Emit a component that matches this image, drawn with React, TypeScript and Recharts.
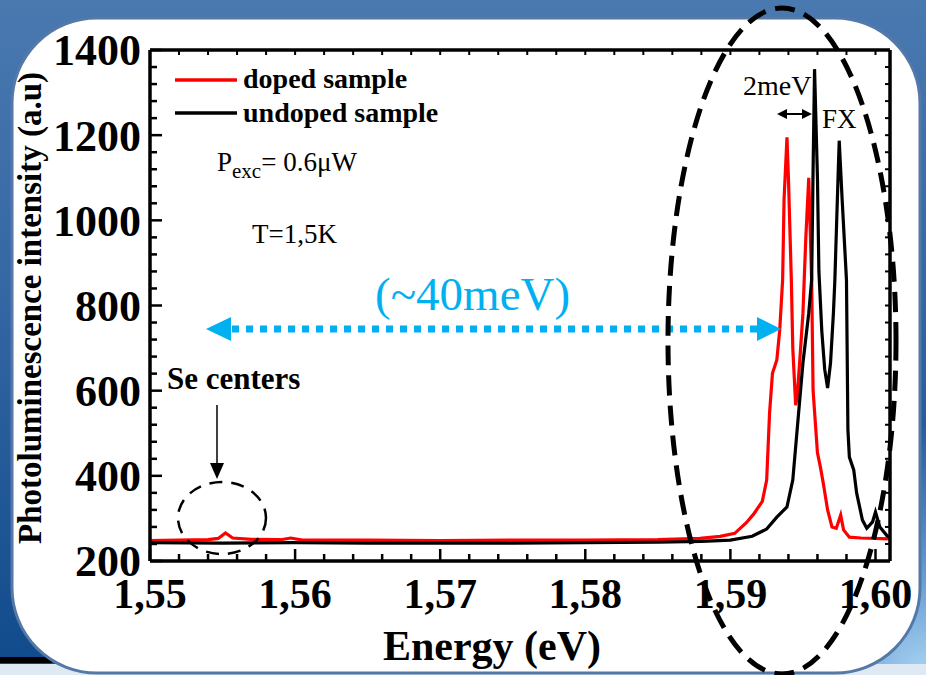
import { LineChart, Line, XAxis, YAxis } from "recharts";

const FONT = '"Liberation Serif", "Times New Roman", serif';

// energy (eV) and PL intensity (a.u)
const DOPED_E = [1.55, 1.552, 1.554, 1.5547, 1.5552, 1.5557, 1.557, 1.559, 1.5597, 1.5605, 1.565, 1.57, 1.575, 1.58, 1.585, 1.5879, 1.5893, 1.5903, 1.5911, 1.5916, 1.5922, 1.5925, 1.5927, 1.5929, 1.5932, 1.5934, 1.5936, 1.5937, 1.5939, 1.594, 1.5942, 1.5943, 1.5945, 1.5946, 1.5948, 1.595, 1.5952, 1.5954, 1.5955, 1.5956, 1.5957, 1.596, 1.5962, 1.5964, 1.5967, 1.597, 1.5973, 1.5976, 1.5978, 1.5982, 1.599, 1.601];
const DOPED_I = [248, 249, 250, 253, 266, 254, 251, 250, 254, 249, 249, 248, 249, 249, 250, 253, 258, 265, 290, 310, 340, 390, 548, 641, 672, 742, 860, 1050, 1195, 1100, 860, 700, 566, 585, 680, 782, 960, 1100, 980, 860, 600, 454, 421, 383, 320, 280, 277, 308, 273, 256, 254, 252];

const UNDOPED_E = [1.55, 1.555, 1.56, 1.565, 1.57, 1.575, 1.58, 1.585, 1.588, 1.59, 1.5915, 1.5925, 1.5932, 1.5939, 1.5943, 1.5946, 1.595, 1.5954, 1.5956, 1.5957, 1.5958, 1.596, 1.5961, 1.5963, 1.5965, 1.5967, 1.5969, 1.5971, 1.5972, 1.5974, 1.5975, 1.5977, 1.598, 1.5981, 1.5982, 1.5985, 1.5987, 1.5991, 1.5994, 1.5998, 1.6, 1.6003, 1.6008, 1.601];
const UNDOPED_I = [243, 242, 243, 242, 242, 242, 243, 244, 246, 249, 258, 275, 303, 327, 390, 508, 665, 782, 860, 1120, 1355, 1100, 880, 740, 650, 606, 665, 782, 860, 1080, 1187, 1050, 860, 508, 444, 414, 360, 296, 277, 292, 315, 280, 259, 256];

const X_MAJOR = [1.55, 1.56, 1.57, 1.58, 1.59, 1.6];
const X_LABELS = ["1,55", "1,56", "1,57", "1,58", "1,59", "1,60"];
const Y_MAJOR = [200, 400, 600, 800, 1000, 1200, 1400];

const doped = DOPED_E.map((e, i) => ({ e, v: DOPED_I[i] }));
const undoped = UNDOPED_E.map((e, i) => ({ e, v: UNDOPED_I[i] }));

const xTicks: number[] = [];
for (let i = 0; i <= 25; i++) xTicks.push(Number((1.55 + i * 0.002).toFixed(3)));
const yTicks: number[] = [];
for (let i = 0; i <= 30; i++) yTicks.push(200 + i * 40);

const isX = (v: number) => X_MAJOR.findIndex((m) => Math.abs(m - v) < 1e-6);
const isY = (v: number) => Y_MAJOR.indexOf(v);

function BottomTick(props: any) {
  const { x, y, payload } = props;
  const idx = isX(payload.value);
  return (
    <g>
      <line x1={x} y1={y} x2={x} y2={y - (idx >= 0 ? 12 : 7)} stroke="#000" strokeWidth={2.5} />
      {idx >= 0 && (
        <text x={x} y={y + 47} textAnchor="middle" fontFamily={FONT} fontWeight="bold" fontSize={42} fill="#000">
          {X_LABELS[idx]}
        </text>
      )}
    </g>
  );
}

function TopTick(props: any) {
  const { x, y } = props;
  return <line x1={x} y1={y} x2={x} y2={y + 5} stroke="#000" strokeWidth={2} />;
}

function LeftTick(props: any) {
  const { x, y, payload } = props;
  const idx = isY(payload.value);
  return (
    <g>
      <line x1={x} y1={y} x2={x + (idx >= 0 ? 12 : 7)} y2={y} stroke="#000" strokeWidth={2.5} />
      {idx >= 0 && (
        <text x={x - 9} y={y} dy="0.35em" textAnchor="end" fontFamily={FONT} fontWeight="bold" fontSize={44} fill="#000">
          {payload.value}
        </text>
      )}
    </g>
  );
}

function RightTick(props: any) {
  const { x, y } = props;
  return <line x1={x} y1={y} x2={x - 5} y2={y} stroke="#000" strokeWidth={2} />;
}

const axisLine = { stroke: "#000", strokeWidth: 3.5 };

export default function App() {
  return (
    <div
      style={{
        position: "absolute",
        left: 0,
        top: 0,
        width: 926,
        height: 675,
        overflow: "hidden",
        background:
          "radial-gradient(circle at 100% 100%, #a9d3f3 0%, rgba(130,185,235,0.7) 9%, rgba(60,110,170,0) 22%), linear-gradient(180deg, #4a79b0 0%, #3366a3 45%, #104a8b 100%)",
      }}
    >
      <svg width={926} height={675} style={{ position: "absolute", left: 0, top: 0 }}>
        <rect x={0} y={664} width={926} height={11} fill="#dfe9f3" />
        <rect x={0} y={657} width={52} height={6} fill="#000" />
        <rect x={12} y={18} width={908} height={655} rx={85} ry={85} fill="#fff" stroke="#5478a8" strokeWidth={3} />
      </svg>

      <div style={{ position: "absolute", left: 0, top: 0 }}>
        <LineChart width={926} height={675} margin={{ top: 49, right: 35, bottom: 0, left: 0 }}>
          <XAxis
            xAxisId="b"
            dataKey="e"
            type="number"
            domain={[1.55, 1.601]}
            allowDataOverflow
            ticks={xTicks}
            interval={0}
            height={114}
            tickSize={0}
            tickMargin={0}
            tickLine={false}
            axisLine={axisLine}
            tick={BottomTick}
          />
          <XAxis
            xAxisId="t"
            orientation="top"
            dataKey="e"
            type="number"
            domain={[1.55, 1.601]}
            allowDataOverflow
            ticks={xTicks}
            interval={0}
            height={1}
            tickSize={0}
            tickMargin={0}
            tickLine={false}
            axisLine={axisLine}
            tick={TopTick}
          />
          <YAxis
            yAxisId="l"
            type="number"
            domain={[200, 1400]}
            allowDataOverflow
            ticks={yTicks}
            interval={0}
            width={150}
            tickSize={0}
            tickMargin={0}
            tickLine={false}
            axisLine={axisLine}
            tick={LeftTick}
          />
          <YAxis
            yAxisId="r"
            orientation="right"
            type="number"
            domain={[200, 1400]}
            allowDataOverflow
            ticks={yTicks}
            interval={0}
            width={1}
            tickSize={0}
            tickMargin={0}
            tickLine={false}
            axisLine={axisLine}
            tick={RightTick}
          />
          <Line xAxisId="b" yAxisId="l" data={doped} dataKey="v" type="linear" stroke="#ff0000" strokeWidth={3.2} dot={false} isAnimationActive={false} />
          <Line xAxisId="b" yAxisId="l" data={undoped} dataKey="v" type="linear" stroke="#000" strokeWidth={3.2} dot={false} isAnimationActive={false} />
        </LineChart>
      </div>

      <svg width={926} height={675} style={{ position: "absolute", left: 0, top: 0, pointerEvents: "none" }} fontFamily={FONT}>
        {/* legend */}
        <line x1={175} y1={80} x2={237} y2={80} stroke="#ff0000" strokeWidth={3.5} />
        <text x={243} y={88} fontSize={28} fontWeight="bold">doped sample</text>
        <line x1={175} y1={113} x2={237} y2={113} stroke="#000" strokeWidth={3.5} />
        <text x={243} y={122} fontSize={28} fontWeight="bold">undoped sample</text>

        <text x={217} y={171} fontSize={27}>
          P<tspan fontSize={21} dy={7}>exc</tspan>
          <tspan dy={-7}>= 0.6μW</tspan>
        </text>
        <text x={252} y={243} fontSize={27}>T=1,5K</text>

        {/* ~40 meV arrow */}
        <text x={375} y={310} fontSize={47} fill="#00b0f0">(~40meV)</text>
        <line x1={232} y1={329} x2={757} y2={329} stroke="#00b0f0" strokeWidth={7} strokeDasharray="7 7" />
        <polygon points="206,329 231,317 231,341" fill="#00b0f0" />
        <polygon points="781,329 757,317 757,341" fill="#00b0f0" />

        {/* Se centers */}
        <text x={167} y={389} fontSize={31} fontWeight="bold">Se centers</text>
        <line x1={217} y1={405} x2={217} y2={466} stroke="#000" strokeWidth={1.5} />
        <polygon points="217,479 210,463 224,463" fill="#000" />
        <ellipse cx={222} cy={518} rx={44} ry={36} fill="none" stroke="#000" strokeWidth={2.5} strokeDasharray="13 9" />

        {/* exciton region */}
        <ellipse cx={782} cy={341} rx={114} ry={333} fill="none" stroke="#000" strokeWidth={5} strokeDasharray="20 10" />
        <text x={743} y={95} fontSize={28}>2meV</text>
        <line x1={784} y1={114} x2={805} y2={114} stroke="#000" strokeWidth={2} />
        <polygon points="777,114 787,109 787,119" fill="#000" />
        <polygon points="812,114 802,109 802,119" fill="#000" />
        <text x={822} y={128} fontSize={27}>FX</text>

        {/* axis titles */}
        <text transform="translate(41,308) rotate(-90)" textAnchor="middle" fontSize={33} fontWeight="bold">
          Photoluminescence intensity (a.u)
        </text>
        <text x={492} y={660} textAnchor="middle" fontSize={42} fontWeight="bold">Energy (eV)</text>
      </svg>
    </div>
  );
}
